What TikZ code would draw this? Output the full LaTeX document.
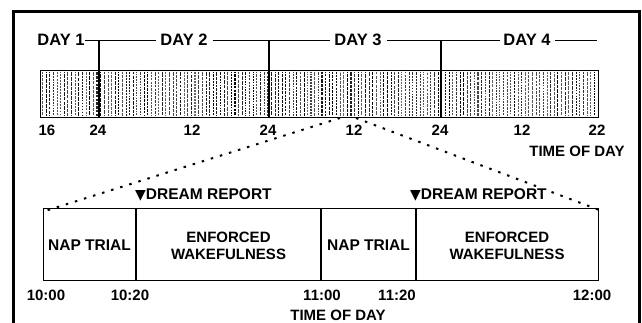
\documentclass[tikz,border=0pt]{standalone}
\usepackage{fontspec}
\setmainfont{Liberation Sans}
\newfontfamily\symfont{DejaVu Sans}
\begin{document}
\begin{tikzpicture}[x=1pt,y=-1pt,
  daylab/.style={font=\fontsize{16.5}{18}\selectfont\bfseries, inner sep=0pt},
  hr/.style={font=\fontsize{15}{16}\selectfont\bfseries, inner sep=1.5pt, fill=white},
  lab/.style={font=\fontsize{15}{17}\selectfont\bfseries, inner sep=0pt, align=center},
  naplab/.style={font=\fontsize{15.5}{17}\selectfont\bfseries, inner sep=0pt},
  dream/.style={font=\fontsize{15.5}{17}\selectfont\bfseries, inner sep=2pt, fill=white, anchor=west},
  frameline/.style={line width=3pt},
  boxline/.style={line width=1.2pt},
  dayline/.style={line width=1pt},
  divline/.style={line width=1.4pt},
  dots/.style={line width=2pt, dash pattern=on 2.5pt off 7pt},
  stripe/.style={line cap=butt}]
\useasboundingbox (0,0) rectangle (642,322);
% frame
\draw[frameline] (13,330) -- (13,11) -- (639.5,11) -- (639.5,330);
% stripes of the bar
\pgfmathsetseed{7}
\foreach \i in {0,...,153} {
  \pgfmathsetmacro\xx{42.5+\i*3.63}
  \pgfmathsetmacro\ww{0.5+0.9*rnd}
  \pgfmathtruncatemacro\gg{60+40*rnd}
  \pgfmathsetmacro\ph{4*rnd}
  \pgfmathsetmacro\on{1.5+2.5*rnd}
  \draw[stripe, line width=\ww pt, black!\gg, dash pattern=on \on pt off 1.1pt, dash phase=\ph pt] (\xx,71.5) -- (\xx,115.5);
}
\node[draw, boxline, minimum width=558pt, minimum height=47pt, inner sep=0pt, anchor=north west] (bar) at (40,70) {};
% day labels
\node[daylab] (d1) at (61,40) {DAY 1};
\node[daylab] (d2) at (184,40) {DAY 2};
\node[daylab] (d3) at (358,40) {DAY 3};
\node[daylab] (d4) at (527,40) {DAY 4};
\coordinate (d4end) at (597,40);
\draw[dayline] (d1.east) -- ([xshift=-4pt]d2.west);
\draw[dayline] ([xshift=5pt]d2.east) -- ([xshift=-4pt]d3.west);
\draw[dayline] ([xshift=5pt]d3.east) -- ([xshift=-3pt]d4.west);
\draw[dayline] ([xshift=4pt]d4.east) -- (d4end);
\coordinate (v1) at (99,40);
\coordinate (v2) at (269,40);
\coordinate (v3) at (441,40);
\foreach \v in {v1,v2,v3} \draw[divline] (\v) -- (\v |- bar.south);
% zoom lines
\coordinate (zl) at (340,118);
\coordinate (zr) at (356,118);
\node[draw, boxline, minimum width=555pt, minimum height=72pt, inner sep=0pt, anchor=north west] (low) at (43,208) {};
\draw[dots] (zl) -- ([shift={(2pt,-3pt)}]low.north west);
\draw[dots] (zr) -- ([shift={(0pt,-2pt)}]low.north east);
% hour labels
\node[hr] (h16) at (47,130) {16};
\node[hr] (h24a) at (98,130) {24};
\node[hr] (h12a) at (192,130) {12};
\node[hr] (h24b) at (268,130) {24};
\node[hr] (h12b) at (354,130) {12};
\node[hr] (h24c) at (440,130) {24};
\node[hr] (h12c) at (522,130) {12};
\node[hr] (h22) at (597,130) {22};
\node[lab] (tod1) at (577,151) {TIME OF DAY};
% lower dividers
\coordinate (s1) at (136,208);
\coordinate (s2) at (321,208);
\coordinate (s3) at (416,208);
\foreach \s in {s1,s2,s3} \draw[boxline] (\s) -- (\s |- low.south);
% dream reports
\node[dream] (dr1) at (133,195) {{\symfont\fontsize{14}{15}\selectfont ▼}DREAM REPORT};
\node[dream] (dr2) at (408,195) {{\symfont\fontsize{14}{15}\selectfont ▼}DREAM REPORT};
% box texts
\node[naplab] (n1) at (89.5,245) {NAP TRIAL};
\node[lab] (e1) at (228.5,246) {ENFORCED\\WAKEFULNESS};
\node[naplab] (n2) at (368.5,245) {NAP TRIAL};
\node[lab] (e2) at (507,246) {ENFORCED\\WAKEFULNESS};
% lower time labels
\node[lab] (t1) at (46,295) {10:00};
\node[lab] (t2) at (130,295) {10:20};
\node[lab] (t3) at (322,295) {11:00};
\node[lab] (t4) at (397,295) {11:20};
\node[lab] (t5) at (592,295) {12:00};
\node[lab] (tod2) at (338,315) {TIME OF DAY};
\end{tikzpicture}
\end{document}
